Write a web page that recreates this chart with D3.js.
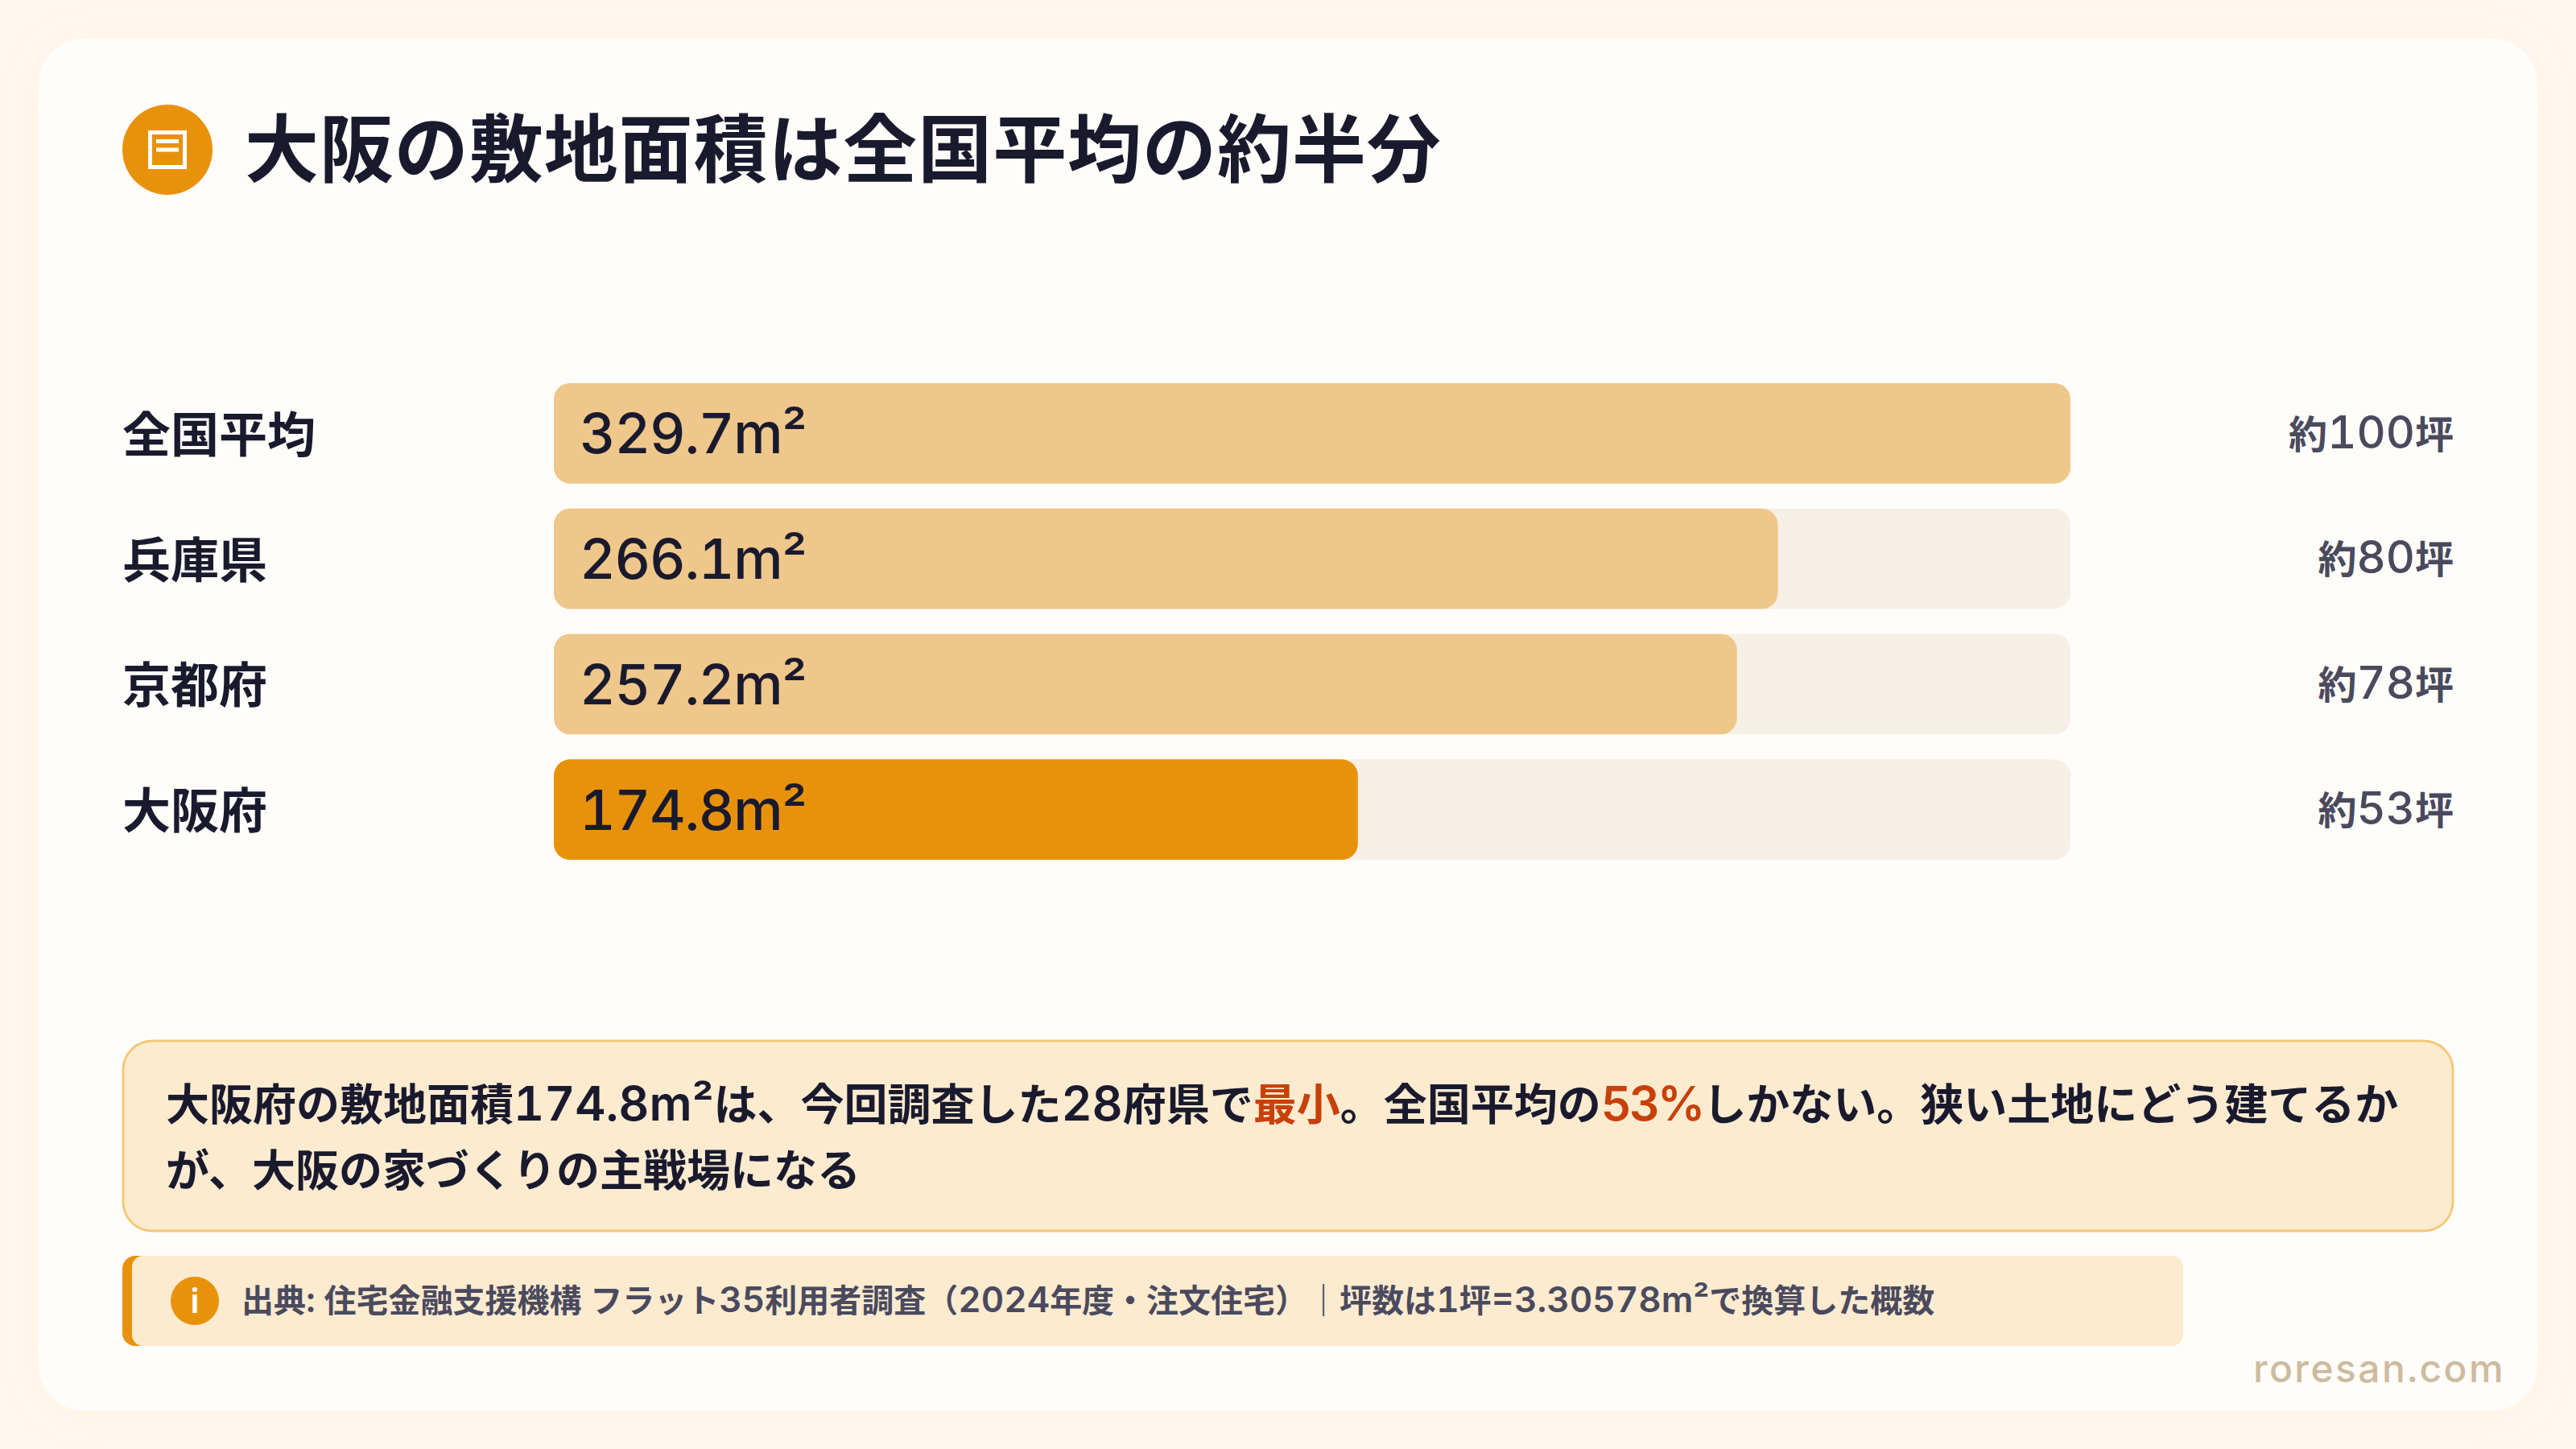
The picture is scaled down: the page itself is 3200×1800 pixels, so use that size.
<!DOCTYPE html>
<html lang="ja">
<head>
<meta charset="utf-8">
<script src="https://cdn.jsdelivr.net/npm/d3@7"></script>
<style>
  html, body { margin: 0; padding: 0; background: #fff8f1; }
  text { font-family: Inter, "Noto Sans CJK JP", sans-serif; font-variant-numeric: tabular-nums; }
</style>
</head>
<body>
<div id="chart"></div>
<script>
const categories = ["全国平均", "兵庫県", "京都府", "大阪府"];
const areaValues = [329.7, 266.1, 257.2, 174.8];
const areaLabels = ["329.7m²", "266.1m²", "257.2m²", "174.8m²"];
const tsuboLabels = ["約100坪", "約80坪", "約78坪", "約53坪"];
const barColors = ["#efc78a", "#efc78a", "#efc78a", "#e8920c"];
const noteLine1 = ["大阪府の敷地面積174.8m²は、今回調査した28府県で", "最小", "。全国平均の", "53%", "しかない。狭い土地にどう建てるか"];
const noteAccent = [false, true, false, true, false];
const noteLine2 = "が、大阪の家づくりの主戦場になる";
const sourceText = "出典: 住宅金融支援機構 フラット35利用者調査（2024年度・注文住宅）｜坪数は1坪=3.30578m²で換算した概数";

const w = 3200, h = 1800;
const svg = d3.select("#chart").append("svg").attr("width", w).attr("height", h).style("display", "block");

// 英数字だけ大きくする
function mixed(sel, str, latinSize, latinWeight) {
  str.split(/([0-9A-Za-z.%=²:]+)/).filter(s => s).forEach(s => {
    const t = sel.append("tspan").text(s);
    if (/^[0-9A-Za-z.%=²:]+$/.test(s)) t.attr("font-size", latinSize).attr("font-weight", latinWeight);
  });
}

// 背景カード
const shadow = svg.append("defs").append("filter").attr("id", "cardShadow")
  .attr("x", "-5%").attr("y", "-5%").attr("width", "110%").attr("height", "110%");
shadow.append("feDropShadow").attr("dx", 0).attr("dy", 4).attr("stdDeviation", 30)
  .attr("flood-color", "#e8920c").attr("flood-opacity", 0.07);
svg.append("rect").attr("width", w).attr("height", h).attr("fill", "#fff8f1");
svg.append("rect").attr("x", 48).attr("y", 48).attr("width", 3104).attr("height", 1704).attr("rx", 56)
  .attr("fill", "#fffdf9").attr("filter", "url(#cardShadow)");

// タイトル
svg.append("circle").attr("cx", 208).attr("cy", 186).attr("r", 56).attr("fill", "#e8920c");
const icon = svg.append("g").attr("fill", "none").attr("stroke", "#fff").attr("stroke-width", 5);
icon.append("rect").attr("x", 186.5).attr("y", 164.5).attr("width", 43).attr("height", 43);
icon.append("line").attr("x1", 194).attr("x2", 222).attr("y1", 175.5).attr("y2", 175.5);
icon.append("line").attr("x1", 194).attr("x2", 222).attr("y1", 186).attr("y2", 186);
svg.append("text").attr("x", 304).attr("y", 186).attr("dy", "0.36em")
  .attr("font-size", 92).attr("font-weight", 700).attr("letter-spacing", "0.01em").attr("fill", "#1a1a2e")
  .text("大阪の敷地面積は全国平均の約半分");

// スケール
const x = d3.scaleLinear().domain([0, d3.max(areaValues)]).range([688, 2572]);
const y = d3.scaleBand().domain(categories).range([476, 1068]).paddingInner(0.2).paddingOuter(0);
const r = 20;

const row = svg.selectAll("g.row").data(categories).enter().append("g").attr("class", "row");
row.append("rect").attr("x", x(0)).attr("y", d => y(d)).attr("width", x.range()[1] - x(0))
  .attr("height", y.bandwidth()).attr("rx", r).attr("fill", "#f6efe6");
row.append("rect").attr("x", x(0)).attr("y", d => y(d))
  .attr("width", (d, i) => x(areaValues[i]) - x(0))
  .attr("height", y.bandwidth()).attr("rx", r).attr("fill", (d, i) => barColors[i]);
row.append("text").attr("x", 152).attr("y", d => y(d) + y.bandwidth() / 2 + 2).attr("dy", "0.36em")
  .attr("font-size", 60).attr("font-weight", 700).attr("fill", "#1a1a2e").text(d => d);
row.append("text").attr("x", 720).attr("y", d => y(d) + y.bandwidth() / 2).attr("dy", "0.36em")
  .attr("font-size", 69).attr("font-weight", 500).attr("letter-spacing", -1.2).attr("fill", "#1a1a2e").text((d, i) => areaLabels[i]);
row.append("text").attr("x", 3048).attr("y", d => y(d) + y.bandwidth() / 2).attr("dy", "0.38em")
  .attr("text-anchor", "end").attr("font-size", 48).attr("font-weight", 600).attr("fill", "#4a4a5e")
  .each(function(d, i) { mixed(d3.select(this), tsuboLabels[i], 56, 500); });

// コメント枠
svg.append("rect").attr("x", 153).attr("y", 1293).attr("width", 2894).attr("height", 236).attr("rx", 36)
  .attr("fill", "#fdebd0").attr("stroke", "#f5c87a").attr("stroke-width", 3);
const noteStyle = s => s.attr("font-size", 54).attr("font-weight", 700).attr("fill", "#1a1a2e");
const line1 = svg.append("text").attr("x", 206).attr("y", 1373).attr("dy", "0.36em").call(noteStyle);
noteLine1.forEach((s, i) => {
  const part = line1.append("tspan").attr("fill", noteAccent[i] ? "#c8400a" : null);
  mixed(part, s, 59, 600);
  if (s.includes("%")) part.attr("letter-spacing", -3);
});
svg.append("text").attr("x", 206).attr("y", 1454.5).attr("dy", "0.36em").call(noteStyle).text(noteLine2);

// 出典
svg.append("rect").attr("x", 152).attr("y", 1560).attr("width", 2560).attr("height", 112).attr("rx", 16).attr("fill", "#e8920c");
svg.append("rect").attr("x", 164).attr("y", 1560).attr("width", 2548).attr("height", 112).attr("rx", 14).attr("fill", "#fdebd0");
svg.append("circle").attr("cx", 242).attr("cy", 1616).attr("r", 30).attr("fill", "#e8920c");
svg.append("text").attr("x", 242).attr("y", 1616).attr("dy", "0.36em").attr("text-anchor", "middle")
  .attr("font-size", 42).attr("font-weight", 600).attr("fill", "#fff").text("i");
const source = svg.append("text").attr("x", 300).attr("y", 1616).attr("dy", "0.36em")
  .attr("font-size", 40).attr("font-weight", 600).attr("fill", "#4a4a5e");
mixed(source, sourceText, 44, 600);

svg.append("text").attr("x", 3112).attr("y", 1700).attr("dy", "0.36em").attr("text-anchor", "end")
  .attr("font-size", 48).attr("font-weight", 500).attr("letter-spacing", 2.4).attr("fill", "#cdbb9f").text("roresan.com");
</script>
</body>
</html>
